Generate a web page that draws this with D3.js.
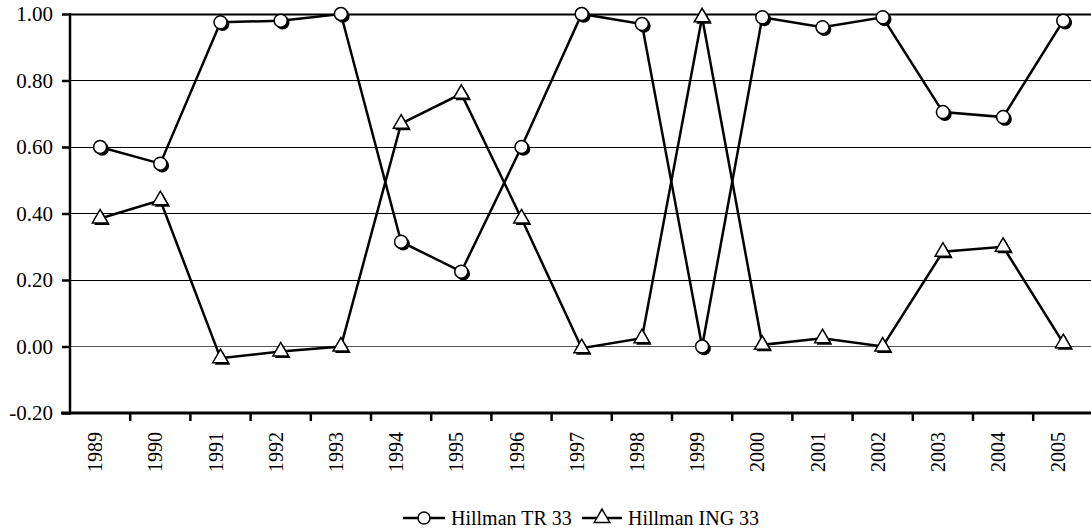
<!DOCTYPE html>
<html>
<head>
<meta charset="utf-8">
<script src="https://cdn.jsdelivr.net/npm/d3@7"></script>
<style>
  html, body { margin: 0; padding: 0; background: #fff; }
  svg { display: block; }
</style>
</head>
<body>
<svg id="chart" width="1091" height="529"></svg>
<script>
const years = ["1989","1990","1991","1992","1993","1994","1995","1996","1997","1998","1999","2000","2001","2002","2003","2004","2005"];
const trValues = [0.60, 0.55, 0.975, 0.98, 1.00, 0.315, 0.225, 0.60, 1.00, 0.97, 0.00, 0.99, 0.96, 0.99, 0.705, 0.69, 0.98];
const ingValues = [0.385, 0.44, -0.035, -0.015, 0.00, 0.67, 0.76, 0.385, -0.005, 0.025, 0.99, 0.005, 0.025, 0.00, 0.285, 0.30, 0.01];
const yTicks = [-0.20, 0.00, 0.20, 0.40, 0.60, 0.80, 1.00];
const seriesNames = ["Hillman TR 33", "Hillman ING 33"];

const FONT = '"Liberation Serif"';
const svg = d3.select("#chart");
const plotLeft = 70, step = 60.2, plotTop = 14, plotBottom = 413;
const x = d3.scaleBand().domain(years).range([plotLeft, plotLeft + step * years.length]).padding(0);
const y = d3.scaleLinear().domain([-0.2, 1.0]).range([plotBottom, plotTop]);
const plotRight = plotLeft + step * years.length;

// gridlines
svg.append("g").selectAll("line").data(yTicks.filter(d => d > -0.2)).join("line")
  .attr("x1", plotLeft).attr("x2", plotRight)
  .attr("y1", d => Math.round(y(d)) + 0.5).attr("y2", d => Math.round(y(d)) + 0.5)
  .attr("stroke", d => d === 0 ? "#555" : "#000")
  .attr("stroke-width", d => d === 1 ? 2 : 1);

// y axis
const fmt = d3.format(".2f");
const yAxis = svg.append("g").attr("transform", `translate(${plotLeft},0)`)
  .call(d3.axisLeft(y).tickValues(yTicks).tickFormat(d => fmt(d).replace("\u2212", "-")).tickSize(8).tickPadding(9));
yAxis.attr("font-family", null).attr("font-size", null);
yAxis.select(".domain").remove();
yAxis.selectAll(".tick line").attr("stroke", "#000").attr("stroke-width", 2.5);
yAxis.selectAll(".tick text").style("font-family", FONT).style("font-size", "21px").attr("fill", "#000");
svg.append("line").attr("x1", plotLeft).attr("x2", plotLeft).attr("y1", plotTop - 1).attr("y2", plotBottom + 1.5)
  .attr("stroke", "#000").attr("stroke-width", 2.5);

// x axis
const xAxis = svg.append("g").attr("transform", `translate(0,${plotBottom})`)
  .call(d3.axisBottom(x).tickSize(0).tickPadding(0));
xAxis.attr("font-family", null).attr("font-size", null);
xAxis.select(".domain").remove();
xAxis.selectAll(".tick text")
  .style("font-family", FONT).style("font-size", "20px").attr("fill", "#000")
  .attr("text-anchor", "end")
  .attr("transform", "translate(2,19) rotate(-90)")
  .attr("x", 0).attr("y", 0).attr("dy", "0em");
// category boundary ticks
svg.append("g").selectAll("line").data(years.slice(1).concat(["__end"])).join("line")
  .attr("x1", d => d === "__end" ? plotRight : x(d)).attr("x2", d => d === "__end" ? plotRight : x(d))
  .attr("y1", plotBottom).attr("y2", plotBottom + 8)
  .attr("stroke", "#000").attr("stroke-width", 2.5);
svg.append("line").attr("x1", plotLeft - 9).attr("x2", plotRight).attr("y1", plotBottom).attr("y2", plotBottom)
  .attr("stroke", "#000").attr("stroke-width", 3);

const cx = d => x(d) + x.bandwidth() / 2;
const line = d3.line().x(d => cx(d.year)).y(d => y(d.v));
const trData = years.map((yr, i) => ({ year: yr, v: trValues[i] }));
const ingData = years.map((yr, i) => ({ year: yr, v: ingValues[i] }));

svg.append("path").datum(trData).attr("d", line).attr("fill", "none").attr("stroke", "#000").attr("stroke-width", 2.5);
svg.append("path").datum(ingData).attr("d", line).attr("fill", "none").attr("stroke", "#000").attr("stroke-width", 2.5);

const triPath = d3.symbol().type(d3.symbolTriangle).size(105);

function circleMarker(g, px, py) {
  g.append("circle").attr("cx", px + 2).attr("cy", py + 2).attr("r", 6.8).attr("fill", "#000");
  g.append("circle").attr("cx", px).attr("cy", py).attr("r", 6.5).attr("fill", "#fff").attr("stroke", "#000").attr("stroke-width", 1.5);
}
function triMarker(g, px, py) {
  g.append("path").attr("d", triPath()).attr("transform", `translate(${px + 2},${py + 2})`).attr("fill", "#000");
  g.append("path").attr("d", triPath()).attr("transform", `translate(${px},${py})`).attr("fill", "#fff").attr("stroke", "#000").attr("stroke-width", 1.5);
}

const mk = svg.append("g");
trData.forEach(d => circleMarker(mk, cx(d.year), y(d.v)));
ingData.forEach(d => triMarker(mk, cx(d.year), y(d.v)));

// legend
const lg = svg.append("g");
const ly = 518;
lg.append("line").attr("x1", 403).attr("x2", 445).attr("y1", ly).attr("y2", ly).attr("stroke", "#000").attr("stroke-width", 2.5);
lg.append("circle").attr("cx", 424).attr("cy", ly).attr("r", 6).attr("fill", "#fff").attr("stroke", "#000").attr("stroke-width", 1.5);
lg.append("text").attr("x", 451).attr("y", ly).attr("dy", "0.35em").style("font-size", "20px").style("font-family", FONT).text(seriesNames[0]);
lg.append("line").attr("x1", 582).attr("x2", 622).attr("y1", ly).attr("y2", ly).attr("stroke", "#000").attr("stroke-width", 2.5);
lg.append("path").attr("d", triPath()).attr("transform", `translate(602,${ly})`).attr("fill", "#fff").attr("stroke", "#000").attr("stroke-width", 1.5);
lg.append("text").attr("x", 628).attr("y", ly).attr("dy", "0.35em").style("font-size", "20px").style("font-family", FONT).text(seriesNames[1]);
</script>
</body>
</html>
